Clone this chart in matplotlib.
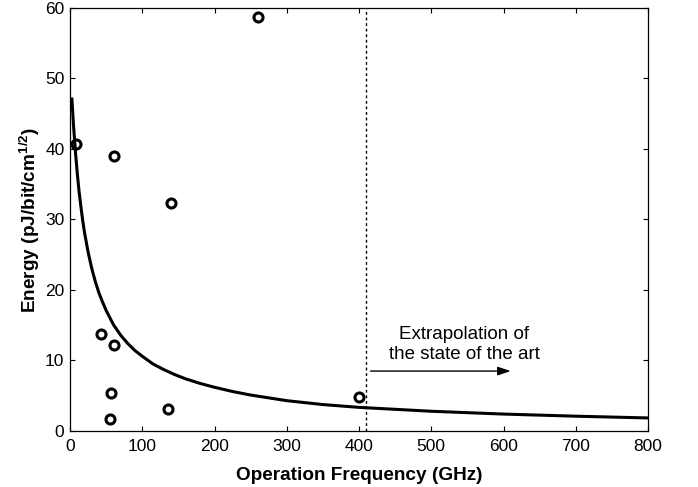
#!/usr/bin/env python3
"""
Energy vs operation frequency with extrapolation of the state of the art
"""

import matplotlib
matplotlib.use('Agg')
import matplotlib.pyplot as plt

plt.rcParams['font.family'] = ['Liberation Sans', 'DejaVu Sans']
plt.rcParams['mathtext.fontset'] = 'custom'
plt.rcParams['mathtext.rm'] = 'Liberation Sans'
plt.rcParams['mathtext.bf'] = 'Liberation Sans:bold'

# measured points (GHz, pJ/bit/cm^1/2)
point_freq = [260.6, 8.3, 60.5, 140.2, 42.9, 60.5, 56.3, 55.8, 135.2, 399.6]
point_energy = [58.7, 40.7, 39.05, 32.3, 13.8, 12.2, 5.35, 1.66, 3.08, 4.78]

# trend curve
curve_freq = [2.5, 5, 7.5, 10, 12.5, 15, 17.5, 20, 25, 30, 35, 40, 45, 50,
              60, 70, 80, 90, 100, 115, 130, 145, 160, 180, 200, 225, 250,
              300, 350, 400, 500, 600, 700, 800]
curve_energy = [47.3, 43.1, 39.6, 36.6, 34.0, 31.9, 29.9, 28.2, 25.4, 23.1,
                21.2, 19.6, 18.3, 17.1, 15.1, 13.6, 12.4, 11.4, 10.6, 9.5,
                8.7, 8.0, 7.4, 6.75, 6.2, 5.6, 5.1, 4.3, 3.75, 3.35, 2.8,
                2.4, 2.1, 1.85]

limit_freq = 410
arrow_start = 416
arrow_end = 610
arrow_energy = 8.5
note_text = 'Extrapolation of\nthe state of the art'

fig = plt.figure(figsize=(6.98, 4.87), dpi=100)
ax = fig.add_axes([0.1003, 0.115, 0.8281, 0.8686])

ax.plot(curve_freq, curve_energy, color='black', linewidth=2.2,
        solid_joinstyle='round', solid_capstyle='butt')
ax.plot(point_freq, point_energy, linestyle='none', marker='o', markersize=6.5,
        markerfacecolor='none', markeredgecolor='black', markeredgewidth=2.2)
ax.axvline(limit_freq, color='black', linewidth=1, linestyle=(0, (2, 2)))

ax.annotate('', xy=(arrow_end, arrow_energy), xytext=(arrow_start, arrow_energy),
            arrowprops=dict(arrowstyle='-|>,head_length=0.6,head_width=0.2',
                            color='black', lw=1, mutation_scale=13,
                            shrinkA=0, shrinkB=0))
ax.text(546, 12.3, note_text, ha='center', va='center', fontsize=13.5)

ax.set_xlim(0, 800)
ax.set_ylim(0, 60)
ax.set_xticks(range(0, 801, 100))
ax.set_yticks(range(0, 61, 10))
ax.tick_params(direction='in', top=True, right=True, length=3.6, width=0.8,
               labelsize=12.5)
ax.tick_params(axis='x', pad=6)
ax.tick_params(axis='y', pad=4)
for s in ax.spines.values():
    s.set_linewidth(0.9)

ax.set_xlabel('Operation Frequency (GHz)', fontsize=13.7, fontweight='bold',
              labelpad=9)
ax.set_ylabel(r'Energy (pJ/bit/cm$^{\mathbf{1/2}}$)', fontsize=13.7,
              fontweight='bold', labelpad=2)

fig.savefig('out.png', dpi=100)
